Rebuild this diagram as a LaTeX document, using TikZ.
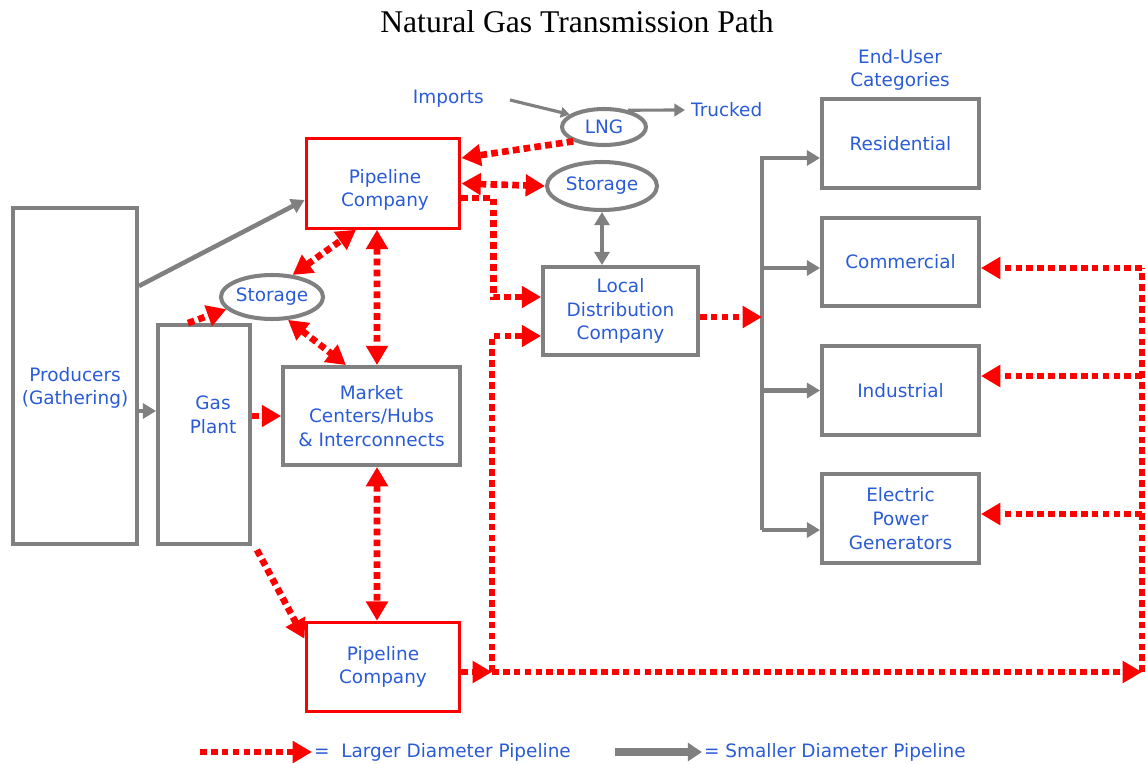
\documentclass[tikz,border=0pt]{standalone}
\usepackage{fontspec}
\setmainfont{Liberation Serif}
\newfontfamily\labelfont{DejaVu Sans}
\usepackage{tikz}
\usetikzlibrary{arrows.meta,positioning,shapes.geometric,calc}
\definecolor{pipered}{HTML}{FF0000}
\definecolor{pipegray}{HTML}{808080}
\definecolor{lblue}{HTML}{2A5BD7}

\begin{document}
\begin{tikzpicture}[x=0.02cm, y=-0.02cm, every node/.style={font=\labelfont\fontsize{10.5}{13.5}\selectfont, text=lblue, align=center}]
\tikzset{box/.style={draw=pipegray, line width=2.2pt, fill=white, inner sep=0pt}}
\tikzset{pbox/.style={draw=pipered, line width=1.7pt, fill=white, inner sep=0pt, minimum width=3.08cm, minimum height=1.79cm}}
\tikzset{enduser/.style={box, minimum width=3.14cm, minimum height=1.77cm}}
\tikzset{tank/.style={draw=pipegray, ellipse, line width=2.3pt, fill=white, inner sep=0pt}}
\tikzset{bigpipe/.style={draw=pipered, line width=3.8pt, dash pattern=on 3.8pt off 2.4pt, -{Triangle[length=11pt,width=12pt]}}}
\tikzset{bigpipe2/.style={bigpipe, {Triangle[length=11pt,width=12pt]}-{Triangle[length=11pt,width=12pt]}}}
\tikzset{smallpipe/.style={draw=pipegray, line width=2.6pt, -{Triangle[length=7.5pt,width=8.5pt]}}}
\tikzset{smallpipe2/.style={smallpipe, {Triangle[length=7.5pt,width=8.5pt]}-{Triangle[length=7.5pt,width=8.5pt]}}}
\useasboundingbox (0,0) rectangle (1146,764);
\node[font=\fontsize{18}{20}\selectfont, text=black] (title) at (577,22) {Natural Gas Transmission Path};
% supply side
\node[box, minimum width=2.48cm, minimum height=6.72cm] (prod) at (75,376) {};
\node (prodlbl) at (75,388) {Producers\\(Gathering)};
\node[box, minimum width=1.84cm, minimum height=4.38cm] (plant) at (204,434.5) {};
\node (plantlbl) at (213,415) {Gas\\Plant};
\node[tank, minimum width=2cm, minimum height=0.88cm] (stor1) at (272,297) {Storage};
\node[pbox] (pcT) at (383,183.5) {};
\node (pcTlbl) at (385,190) {Pipeline\\Company};
\node[box, minimum width=3.54cm, minimum height=1.96cm] (mkt) at (371.5,416) {Market\\Centers/Hubs\\\& Interconnects};
\node[pbox] (pcB) at (383,667) {Pipeline\\Company};
\node[tank, minimum width=1.68cm, minimum height=0.72cm] (lng) at (604,127) {LNG};
\node[tank, minimum width=2.2cm, minimum height=0.96cm] (stor2) at (602,186) {Storage};
\node[anchor=east] (imports) at (490,99) {Imports};
\node[anchor=west] (trucked) at (685,110) {Trucked};
\node[box, minimum width=3.1cm, minimum height=1.76cm] (ldc) at (620.5,311) {Local\\Distribution\\Company};
% end users
\node (endusr) at (900,70) {End-User\\Categories};
\node[enduser] (res) at (900.5,143.5) {Residential};
\node[enduser] (com) at (900.5,262) {Commercial};
\node[enduser] (ind) at (900.5,390.5) {Industrial};
\node[enduser] (elec) at (900.5,518.5) {Electric\\Power\\Generators};
% helper points
\coordinate (impend) at (510,100);
\coordinate (pin) at ([yshift=-0.7cm]prod.east);
\coordinate (lbx) at (762,0);
\coordinate (resin) at ([yshift=-0.29cm]res.west);
\coordinate (comin) at ([yshift=-0.12cm]com.west);
\coordinate (elecin) at ([yshift=-0.23cm]elec.west);
\coordinate (ldcout) at ([yshift=-0.12cm]ldc.east);
\coordinate (ldcin) at ([yshift=-0.5cm]ldc.west);
\coordinate (jB) at (492,672);
\coordinate (rbB) at (1142,672);
\coordinate (rbT) at (1142,268);
\coordinate (indin) at ([yshift=0.29cm]ind.east);
\coordinate (elecr) at ([yshift=0.09cm]elec.east);
% smaller pipes
\draw[smallpipe] ([yshift=1.8cm]prod.east) -- ([yshift=-0.33cm]pcT.west);
\draw[smallpipe] (pin) -- (pin -| plant.west);
\draw[smallpipe, line width=1.8pt, -{Triangle[length=5pt,width=6pt]}] (impend) -- (lng.160);
\draw[smallpipe, line width=1.8pt, -{Triangle[length=6pt,width=7pt]}] (lng.35) -- (trucked.west);
\draw[smallpipe2] (stor2.south) -- (stor2.south |- ldc.north);
\draw[smallpipe] (elecin -| lbx) |- (resin);
\draw[smallpipe] (elecin -| lbx) -- (elecin);
\draw[smallpipe] (comin -| lbx) -- (comin);
\draw[smallpipe] (ind.west -| lbx) -- (ind.west);
% larger pipes
\draw[bigpipe] ([xshift=-0.32cm]plant.north) -- (stor1.195);
\draw[bigpipe] (plant.east |- mkt.west) -- (mkt.west);
\draw[bigpipe] ([xshift=0.1cm,yshift=-0.08cm]plant.south east) -- ([yshift=-0.36cm]pcB.north west);
\draw[bigpipe2] (stor1.47) -- ([xshift=-0.54cm]pcT.south);
\draw[bigpipe2] (stor1.-55) -- ([xshift=-0.51cm]mkt.north);
\draw[bigpipe2] ([xshift=-0.12cm]pcT.south) -- ([xshift=0.11cm]mkt.north);
\draw[bigpipe2] ([xshift=0.11cm]mkt.south) -- ([xshift=-0.12cm]pcB.north);
\draw[bigpipe] (lng.205) -- ([yshift=0.51cm]pcT.east);
\draw[bigpipe2] (pcT.east) -- (stor2.west);
\draw[bigpipe] ([yshift=-0.29cm]pcT.east) -- ++(32,0) |- ([yshift=0.28cm]ldc.west);
\draw[bigpipe] (pcB.east |- jB) -- (jB);
\draw[bigpipe] (jB) |- (ldcin);
\draw[bigpipe] (jB) -- (rbB);
\draw[bigpipe, -] (rbB) -- (rbT);
\draw[bigpipe] (rbT) -- (rbT -| com.east);
\draw[bigpipe] (indin -| rbB) -- (indin);
\draw[bigpipe] (elecr -| rbB) -- (elecr);
\draw[bigpipe] (ldcout) -- (ldcout -| lbx);
% legend
\coordinate (legA) at (200,752);
\coordinate (legB) at (312,752);
\coordinate (legC) at (615,752);
\coordinate (legD) at (702,752);
\draw[bigpipe] (legA) -- (legB);
\node[anchor=west, inner sep=1pt] (leglarge) at (legB) {=\ \ Larger Diameter Pipeline};
\draw[smallpipe, line width=4pt, -{Triangle[length=8pt,width=10pt]}] (legC) -- (legD);
\node[anchor=west, inner sep=1pt] (legsmall) at (legD) {= Smaller Diameter Pipeline};
\end{tikzpicture}
\end{document}
